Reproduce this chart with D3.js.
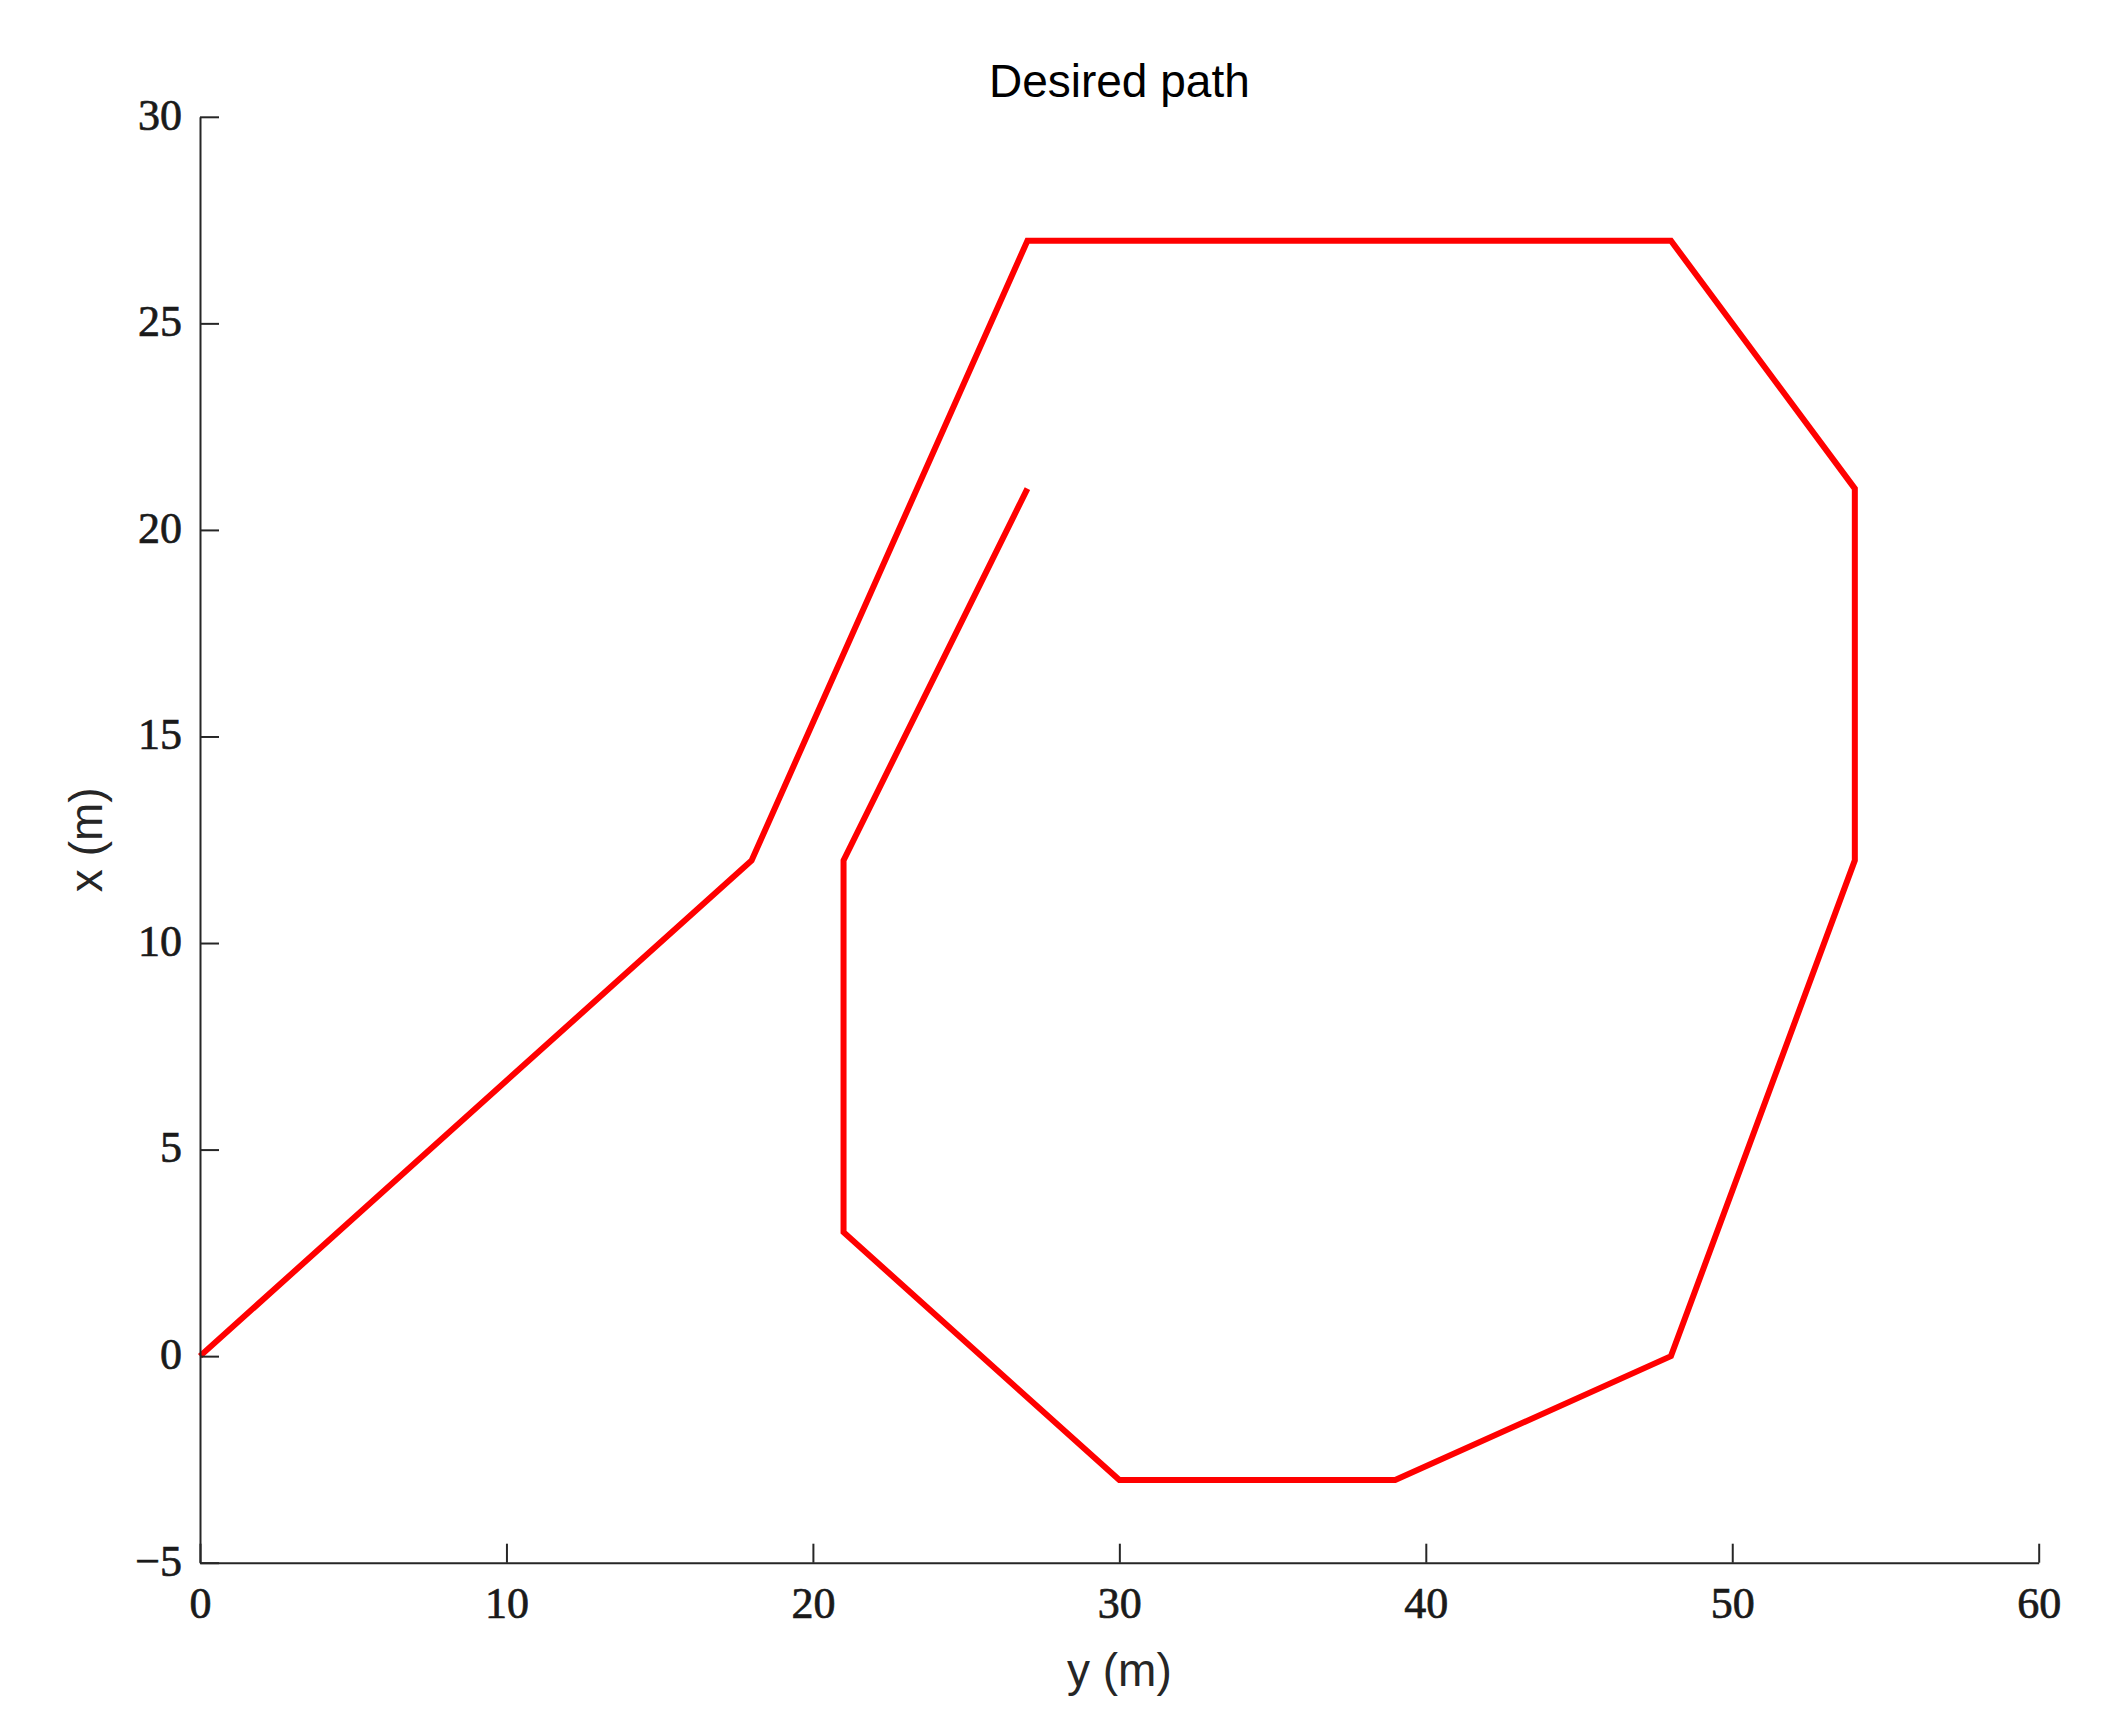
<!DOCTYPE html>
<html>
<head>
<meta charset="utf-8">
<script src="https://cdn.jsdelivr.net/npm/d3@7"></script>
<style>
  html, body { margin: 0; padding: 0; background: #ffffff; }
  svg { display: block; }
</style>
</head>
<body>
<script>
// ---- data ----
const pathY = [0, 18, 27, 48, 54, 54, 48, 39, 30, 21, 21, 27];   // horizontal axis: y (m)
const pathX = [0, 12, 27, 27, 21, 12, 0, -3, -3, 3, 12, 21];     // vertical axis: x (m)
const xTickValues = [0, 10, 20, 30, 40, 50, 60];
const yTickValues = [-5, 0, 5, 10, 15, 20, 25, 30];
const titleText = "Desired path";
const xLabelText = "y (m)";
const yLabelText = "x (m)";

const W = 2106, H = 1721;
const mLeft = 200, mRight = 2038.7, mTop = 116.8, mBottom = 1562.7;
const axisColor = "#262626";

const svg = d3.select("body").append("svg")
  .attr("width", W).attr("height", H);

const xs = d3.scaleLinear().domain([0, 60]).range([mLeft, mRight]);
const ys = d3.scaleLinear().domain([-5, 30]).range([mBottom, mTop]);

const fmt = d => (d < 0 ? "\u2212" + Math.abs(d) : String(d));

// path
const pts = pathY.map((v, i) => [v, pathX[i]]);
svg.append("path")
  .datum(pts)
  .attr("d", d3.line().x(d => xs(d[0])).y(d => ys(d[1])))
  .attr("fill", "none")
  .attr("stroke", "#ff0000")
  .attr("stroke-width", 6)
  .attr("stroke-linejoin", "miter")
  .attr("stroke-linecap", "butt");

// axes
const xAxis = d3.axisBottom(xs).tickValues(xTickValues).tickFormat(fmt)
  .tickSizeInner(-19).tickSizeOuter(0).tickPadding(24);
const yAxis = d3.axisLeft(ys).tickValues(yTickValues).tickFormat(fmt)
  .tickSizeInner(-19).tickSizeOuter(0).tickPadding(18);

const gx = svg.append("g").attr("transform", `translate(0,${mBottom})`).call(xAxis);
const gy = svg.append("g").attr("transform", `translate(${mLeft},0)`).call(yAxis);

[gx, gy].forEach(g => {
  g.select(".domain").attr("stroke", axisColor).attr("stroke-width", 2);
  g.selectAll(".tick line").attr("stroke", axisColor).attr("stroke-width", 2);
  g.selectAll(".tick text")
    .attr("fill", "#1a1a1a")
    .attr("stroke", "#1a1a1a")
    .attr("stroke-width", 0.7)
    .style("font-family", "'Liberation Serif', 'Times New Roman', serif")
    .style("font-size", "44px");
});
gy.selectAll(".tick text").attr("dy", "0.28em");

// title
svg.append("text")
  .attr("x", (mLeft + mRight) / 2).attr("y", 97)
  .attr("text-anchor", "middle")
  .style("font-family", "'Liberation Sans', Arial, Helvetica, sans-serif")
  .style("font-size", "46px")
  .attr("fill", "#000")
  .text(titleText);

// x label
svg.append("text")
  .attr("x", (mLeft + mRight) / 2).attr("y", 1686)
  .attr("text-anchor", "middle")
  .style("font-family", "'Liberation Sans', Arial, Helvetica, sans-serif")
  .style("font-size", "46px")
  .attr("fill", "#262626")
  .text(xLabelText);

// y label
svg.append("text")
  .attr("transform", `translate(102,${(mTop + mBottom) / 2}) rotate(-90)`)
  .attr("text-anchor", "middle")
  .style("font-family", "'Liberation Sans', Arial, Helvetica, sans-serif")
  .style("font-size", "46px")
  .attr("fill", "#262626")
  .text(yLabelText);
</script>
</body>
</html>
